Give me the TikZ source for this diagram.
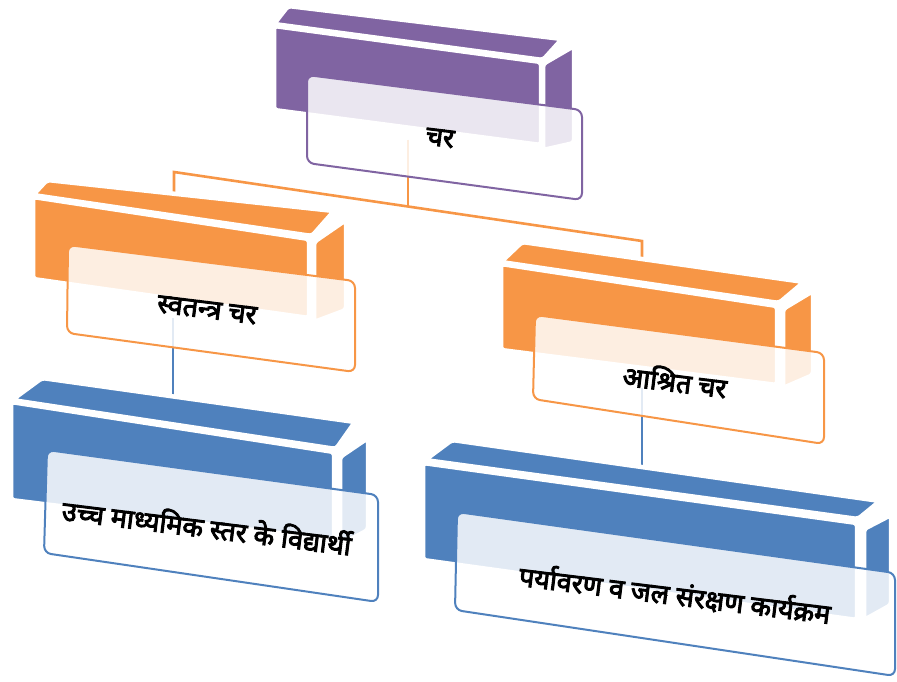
\documentclass[tikz,border=0pt]{standalone}
\usepackage{fontspec}
\newfontfamily\dev[Script=Devanagari,FakeBold=3.5]{Noto Sans}
\definecolor{pur}{HTML}{8064A2}
\definecolor{org}{HTML}{F79646}
\definecolor{blu}{HTML}{4F81BD}

\begin{document}
\begin{tikzpicture}[x=1pt,y=-1pt,
  face/.style={fill=#1, draw=white, line width=4.5pt, line join=round, rounded corners=3pt},
  card/.style={fill=white, fill opacity=0.84, draw=#1, draw opacity=1, line width=2pt, rounded corners=7pt},
  lbl/.style={font=\dev\fontsize{27}{30}\selectfont, rotate=-7, inner sep=0pt},
  link/.style={draw=#1, line width=2.6pt}]
\useasboundingbox (0,0) rectangle (897,682);

% ---- connector end points
\coordinate (rootfoot) at (408,140);
\coordinate (jn) at (408,206);
\coordinate (elbowL) at (174,172);
\coordinate (elbowR) at (642,241);
\coordinate (indepTop) at (174,192);
\coordinate (depTop) at (642,260);
\coordinate (indepFoot) at (173,318);
\coordinate (sampleTop) at (173,398);
\coordinate (depFoot) at (642,388);
\coordinate (progTop) at (642,468);

% ---- connectors
\draw[link=org] (rootfoot) -- (jn);
\draw[link=org] (indepTop) -- (elbowL) -- (elbowR) -- (depTop);
\draw[link=blu] (indepFoot) -- (sampleTop);
\draw[link=blu] (depFoot) -- (progTop);

% ---- root: purple block
\path[face=pur] (274,24) -- (543,60) -- (562,39) -- (288,6) -- cycle;
\path[face=pur] (274,26) -- (541,62) -- (541,145) -- (274,110) -- cycle;
\path[face=pur] (543,64) -- (574,46) -- (574,143) -- (543,150) -- cycle;
\path[card=pur] (307,75) -- (582,110) -- (582,200) -- (307,163) -- cycle;
\node[lbl] (root) at (440,138) {चर};

% ---- independent variable: orange block, left
\path[face=org] (33,195) -- (312,236) -- (334,211) -- (47,180) -- cycle;
\path[face=org] (33,197) -- (309,239) -- (309,318) -- (33,279) -- cycle;
\path[face=org] (314,242) -- (346,220) -- (346,310) -- (314,322) -- cycle;
\path[card=org] (68,245) -- (355,281) -- (355,372) -- (67,333) -- cycle;
\node[lbl] (indep) at (207,310) {स्वतन्त्र चर};

% ---- dependent variable: orange block, right
\path[face=org] (501,262) -- (779,303) -- (804,282) -- (522,242) -- cycle;
\path[face=org] (501,264) -- (777,306) -- (777,385) -- (501,350) -- cycle;
\path[face=org] (783,309) -- (813,291) -- (813,375) -- (783,388) -- cycle;
\path[card=org] (535,315) -- (824,353) -- (824,444) -- (533,399) -- cycle;
\node[lbl] (dep) at (675,380) {आश्रित चर};

% ---- sample: blue block, left
\path[face=blu] (12,400) -- (336,449) -- (355,422) -- (42,378) -- cycle;
\path[face=blu] (11,402) -- (334,452) -- (334,540) -- (11,500) -- cycle;
\path[face=blu] (340,457) -- (368,438) -- (368,530) -- (340,545) -- cycle;
\path[card=blu] (47,450) -- (378,495) -- (378,602) -- (44,553) -- cycle;
\node[lbl] (sample) at (207,526) {उच्च माध्यमिक स्तर के विद्यार्थी};

% ---- programme: blue block, right
\path[face=blu] (425,460) -- (858,519) -- (880,501) -- (452,440) -- cycle;
\path[face=blu] (423,463) -- (857,523) -- (857,620) -- (423,560) -- cycle;
\path[face=blu] (864,529) -- (891,515) -- (891,605) -- (864,620) -- cycle;
\path[card=blu] (457,512) -- (895,573) -- (895,676) -- (455,610) -- cycle;
\node[lbl] (prog) at (675,594) {पर्यावरण व जल संरक्षण कार्यक्रम};

\end{tikzpicture}
\end{document}
